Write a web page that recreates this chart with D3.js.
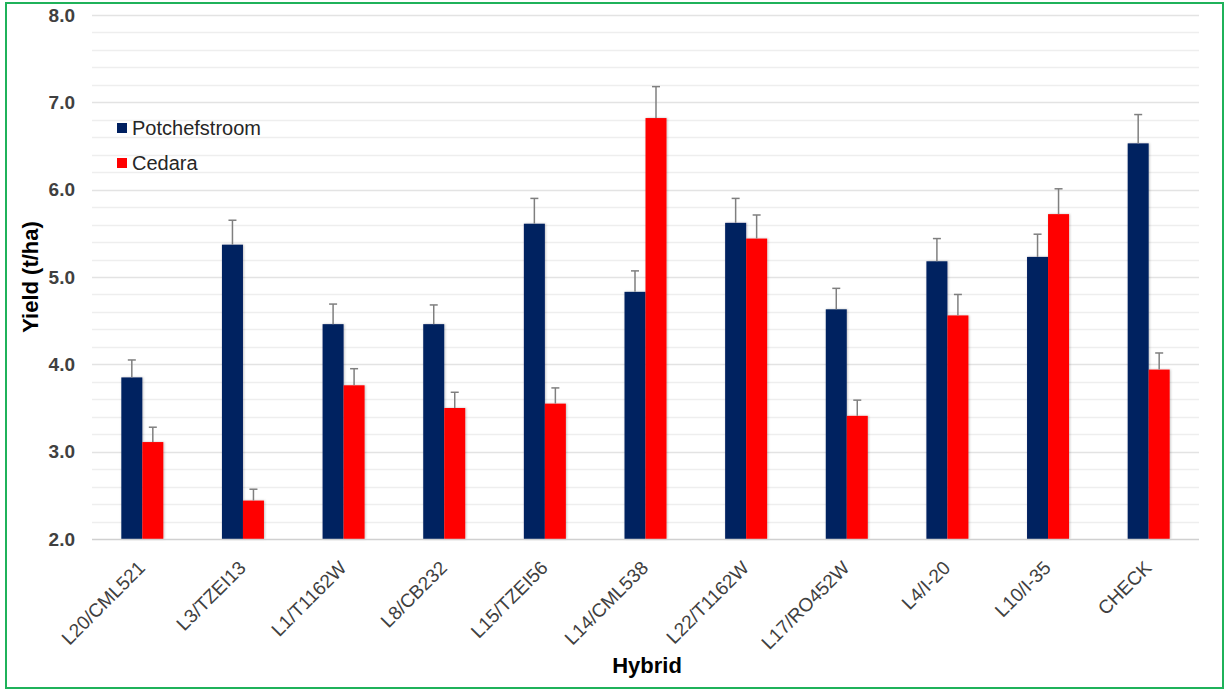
<!DOCTYPE html>
<html>
<head>
<meta charset="utf-8">
<script src="https://cdn.jsdelivr.net/npm/d3@7"></script>
<style>
  html, body { margin: 0; padding: 0; background: #ffffff; }
  svg { display: block; font-family: "Liberation Sans", Arial, sans-serif; }
</style>
</head>
<body>
<svg id="chart" width="1226" height="690"></svg>
<script>
// Hybrid grain yield at two sites, with standard-error bars
const hybrids = ["L20/CML521", "L3/TZEI13", "L1/T1162W", "L8/CB232", "L15/TZEI56",
                 "L14/CML538", "L22/T1162W", "L17/RO452W", "L4/I-20", "L10/I-35", "CHECK"];
const seriesNames = ["Potchefstroom", "Cedara"];
const potchefstroom = [3.85, 5.37, 4.46, 4.46, 5.61, 4.83, 5.62, 4.63, 5.18, 5.23, 6.53];
const potchefstroomErr = [0.20, 0.28, 0.23, 0.22, 0.29, 0.24, 0.28, 0.24, 0.26, 0.26, 0.33];
const cedara = [3.11, 2.44, 3.76, 3.50, 3.55, 6.82, 5.44, 3.41, 4.56, 5.72, 3.94];
const cedaraErr = [0.17, 0.13, 0.19, 0.18, 0.18, 0.36, 0.27, 0.18, 0.24, 0.29, 0.19];
const yTicks = [2, 3, 4, 5, 6, 7, 8];
const colors = ["#002060", "#ff0000"];

const svg = d3.select("#chart");
const plot = { left: 92, right: 1199, top: 15, bottom: 539 };

// soft shadow under the bars
const defs = svg.append("defs");
defs.append("filter").attr("id", "barShadow")
  .attr("x", "-20%").attr("y", "-5%").attr("width", "140%").attr("height", "110%")
  .append("feDropShadow")
  .attr("dx", 0.8).attr("dy", 0).attr("stdDeviation", 1)
  .attr("flood-color", "#000").attr("flood-opacity", 0.25);

// outer frame
svg.append("rect")
  .attr("x", 6).attr("y", 3).attr("width", 1217).attr("height", 685)
  .attr("fill", "none").attr("stroke", "#1fb25a").attr("stroke-width", 2);

const y = d3.scaleLinear().domain([2, 8]).range([plot.bottom, plot.top]);
const x = d3.scaleBand().domain(hybrids).range([plot.left, plot.right]).padding(0);
const xs = d3.scaleBand().domain(seriesNames).range([-21, 21]).padding(0);

// gridlines every 0.2
const gridVals = d3.range(2.2, 8.01, 0.2);
svg.append("g").selectAll("line").data(gridVals).join("line")
  .attr("x1", plot.left).attr("x2", plot.right)
  .attr("y1", d => Math.round(y(d)) + 0.5).attr("y2", d => Math.round(y(d)) + 0.5)
  .attr("stroke", d => Math.abs(d - Math.round(d)) < 1e-6 ? "#e3e3e3" : "#eeeeee")
  .attr("stroke-width", 1.5);

// y axis labels
const yAxis = d3.axisLeft(y).tickValues(yTicks).tickFormat(d3.format(".1f")).tickSize(0).tickPadding(17);
const gy = svg.append("g").attr("transform", `translate(${plot.left},0)`).call(yAxis);
gy.select(".domain").remove();
gy.selectAll("text").attr("fill", "#404040").style("font-size", "19px").style("font-weight", "bold");

// bars
const data = hybrids.map((h, i) => ({
  h,
  vals: [
    { s: seriesNames[0], v: potchefstroom[i], e: potchefstroomErr[i], c: colors[0] },
    { s: seriesNames[1], v: cedara[i], e: cedaraErr[i], c: colors[1] }
  ]
}));

const groups = svg.append("g").selectAll("g").data(data).join("g")
  .attr("transform", d => `translate(${x(d.h) + x.bandwidth() / 2},0)`);

groups.selectAll("rect").data(d => d.vals).join("rect")
  .attr("x", d => xs(d.s))
  .attr("width", xs.bandwidth())
  .attr("y", d => y(d.v))
  .attr("height", d => y(2) - y(d.v))
  .attr("fill", d => d.c)
  .attr("filter", "url(#barShadow)");

// error bars (upper only)
const eb = groups.selectAll("g.err").data(d => d.vals).join("g").attr("class", "err");
eb.append("line")
  .attr("x1", d => xs(d.s) + xs.bandwidth() / 2).attr("x2", d => xs(d.s) + xs.bandwidth() / 2)
  .attr("y1", d => y(d.v)).attr("y2", d => y(d.v + d.e))
  .attr("stroke", "#7f7f7f").attr("stroke-width", 1.5);
eb.append("line")
  .attr("x1", d => xs(d.s) + xs.bandwidth() / 2 - 4).attr("x2", d => xs(d.s) + xs.bandwidth() / 2 + 4)
  .attr("y1", d => y(d.v + d.e)).attr("y2", d => y(d.v + d.e))
  .attr("stroke", "#7f7f7f").attr("stroke-width", 1.5);

// baseline
svg.append("line")
  .attr("x1", plot.left).attr("x2", plot.right)
  .attr("y1", plot.bottom + 0.5).attr("y2", plot.bottom + 0.5)
  .attr("stroke", "#d0d0d0").attr("stroke-width", 1.5);

// x axis labels, rotated
const xAxis = d3.axisBottom(x).tickSize(0).tickPadding(0);
const gx = svg.append("g").attr("transform", `translate(0,${plot.bottom})`).call(xAxis);
gx.select(".domain").remove();
gx.selectAll("text")
  .attr("fill", "#404040").style("font-size", "19px")
  .attr("text-anchor", "end")
  .attr("dy", null)
  .attr("y", 0)
  .attr("transform", "translate(4,30) rotate(-45)");

// axis titles
svg.append("text")
  .attr("x", 647).attr("y", 673)
  .attr("text-anchor", "middle")
  .style("font-size", "22px").style("font-weight", "bold").attr("fill", "#000")
  .text("Hybrid");
svg.append("text")
  .attr("transform", `translate(38,${(plot.top + plot.bottom) / 2}) rotate(-90)`)
  .attr("text-anchor", "middle")
  .style("font-size", "22px").style("font-weight", "bold").attr("fill", "#000")
  .text("Yield (t/ha)");

// legend
const legend = svg.append("g").attr("transform", "translate(117,135)");
const li = legend.selectAll("g").data(seriesNames).join("g")
  .attr("transform", (d, i) => `translate(0,${i * 35})`);
li.append("rect").attr("x", 0).attr("y", -12).attr("width", 10).attr("height", 10)
  .attr("fill", (d, i) => colors[i]);
li.append("text").attr("x", 15).attr("y", 0)
  .style("font-size", "20px").attr("fill", "#262626").text(d => d);
</script>
</body>
</html>
